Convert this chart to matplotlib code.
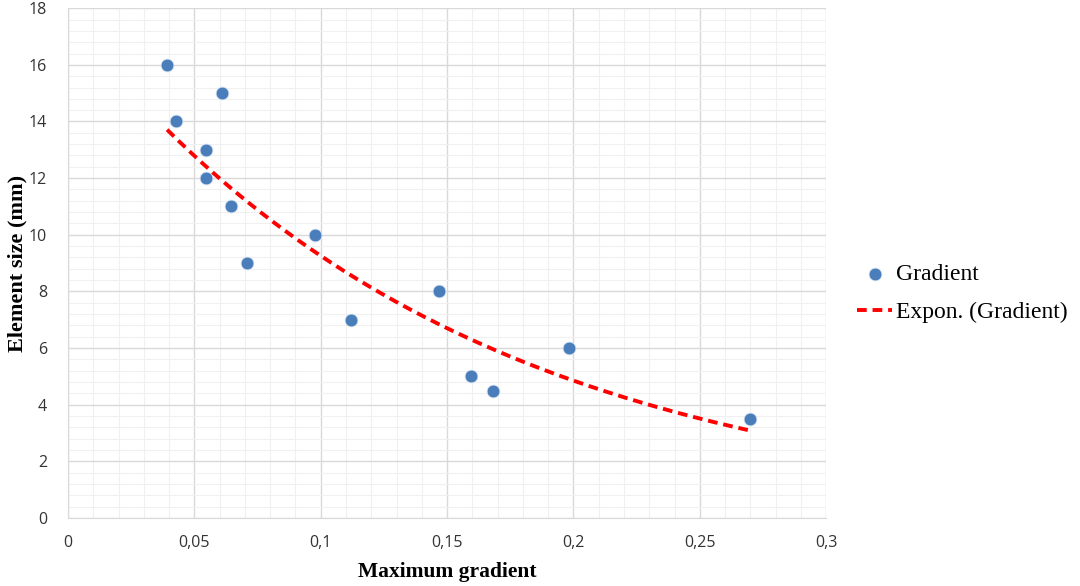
import numpy as np
import matplotlib.pyplot as plt
from matplotlib.ticker import MultipleLocator, FuncFormatter

# maximum gradient vs element size
gradient = [0.0392, 0.0427, 0.0609, 0.0546, 0.0546, 0.0645, 0.0708,
            0.0978, 0.112, 0.1468, 0.1595, 0.1682, 0.1983, 0.270]
element_size = [16, 14, 15, 13, 12, 11, 9, 10, 7, 8, 5, 4.5, 6, 3.5]

x = np.array(gradient)
y = np.array(element_size)

# exponential trendline y = a*exp(b*x), fitted on log(y)
b, ln_a = np.polyfit(x, np.log(y), 1)
xs = np.linspace(x.min(), x.max(), 200)
ys = np.exp(ln_a) * np.exp(b * xs)

fig = plt.figure(figsize=(10.8, 5.86), dpi=100)
ax = fig.add_axes([0.063, 0.116, 0.702, 0.870])

ax.scatter(x, y, s=85, color='#4a7ebb', edgecolors='#d8e4f2', linewidths=0.6,
           zorder=3, label='Gradient')
ax.plot(xs, ys, color='#ff0000', linestyle=(0, (2.5, 1.5)), linewidth=2.8,
        zorder=4, label='Expon. (Gradient)')

ax.set_xlim(0, 0.3)
ax.set_ylim(0, 18)
ax.xaxis.set_major_locator(MultipleLocator(0.05))
ax.xaxis.set_minor_locator(MultipleLocator(0.01))
ax.yaxis.set_major_locator(MultipleLocator(2))
ax.yaxis.set_minor_locator(MultipleLocator(0.4))

def comma(v, pos):
    s = ('%.2f' % v).rstrip('0').rstrip('.')
    return s.replace('.', ',')

ax.xaxis.set_major_formatter(FuncFormatter(comma))

ax.grid(which='major', color='#d9d9d9', linewidth=1.0)
ax.grid(which='minor', color='#f0f0f0', linewidth=0.8)
ax.set_axisbelow(True)

for side in ['top', 'right']:
    ax.spines[side].set_visible(False)
for side in ['left', 'bottom']:
    ax.spines[side].set_color('#d9d9d9')
ax.tick_params(which='both', length=0, labelsize=11.5, colors='#333333',
               labelfontfamily='Open Sans')
ax.tick_params(axis='x', pad=12)
ax.tick_params(axis='y', pad=15)

ax.set_xlabel('Maximum gradient', fontsize=15.5, fontweight='bold',
              family='Liberation Serif', labelpad=8)
ax.set_ylabel('Element size (mm)', fontsize=16, fontweight='bold',
              family='Liberation Serif', labelpad=1)

fig.legend(loc='center left', bbox_to_anchor=(0.7935, 0.5), frameon=False,
           borderpad=0, borderaxespad=0,
           prop={'family': 'Liberation Serif', 'size': 17},
           handlelength=1.5, handletextpad=0.15, labelspacing=0.7)

fig.savefig('out.png', dpi=100)
